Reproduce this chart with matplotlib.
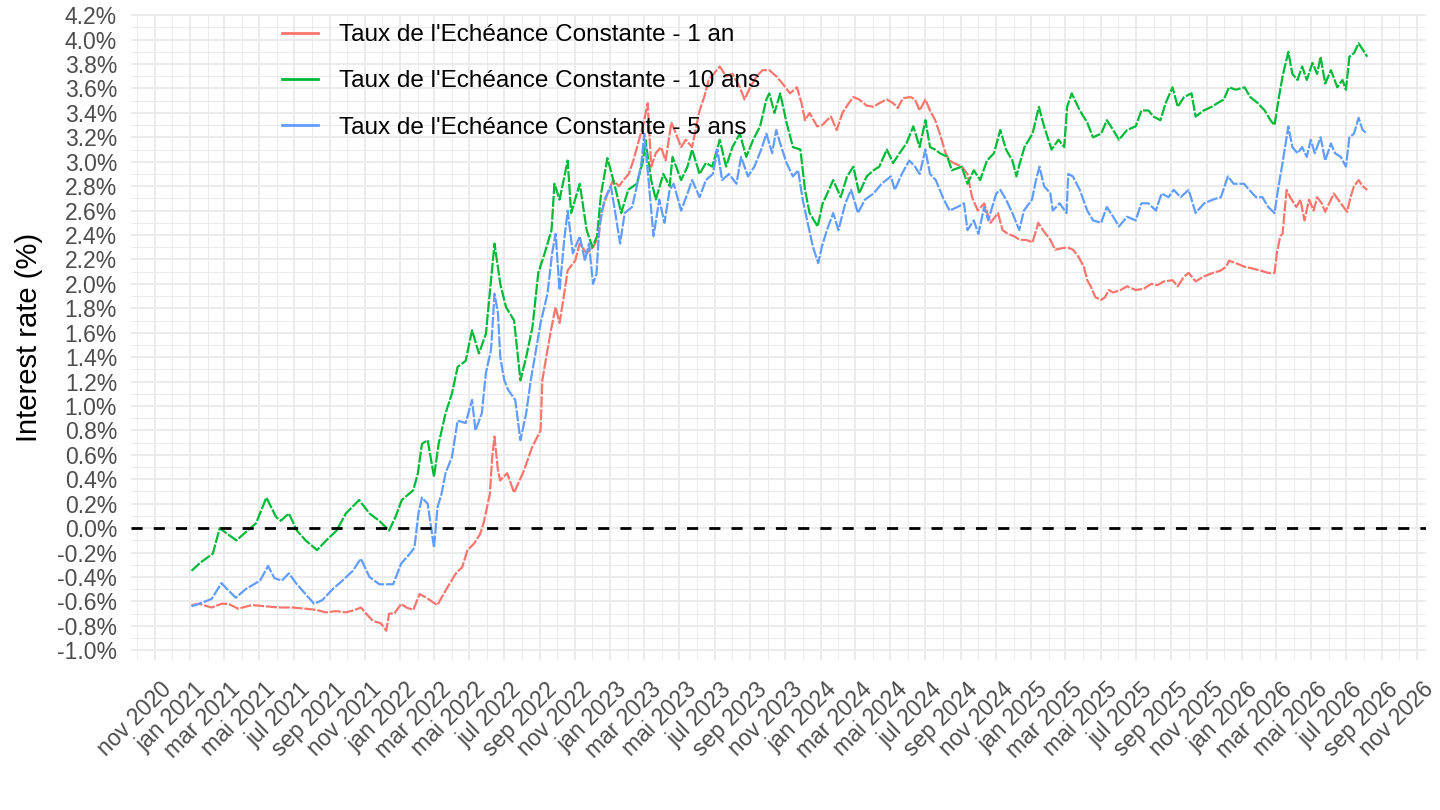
import numpy as np
import pandas as pd
import matplotlib
matplotlib.use("Agg")
import matplotlib.pyplot as plt
import matplotlib.dates as mdates
import matplotlib.transforms as mtransforms
from matplotlib.ticker import MultipleLocator, FuncFormatter

plt.rcParams['font.family'] = ['Liberation Sans', 'DejaVu Sans']

# ---- data ----
dates_1an = ["2021-01-04", "2021-01-17", "2021-02-08", "2021-02-25", "2021-03-09", "2021-03-26",
             "2021-04-19", "2021-05-12", "2021-06-04", "2021-06-28", "2021-07-21", "2021-08-09",
             "2021-08-25", "2021-09-12", "2021-09-29", "2021-10-15", "2021-10-25", "2021-11-03",
             "2021-11-15", "2021-11-29", "2021-12-08", "2021-12-13", "2021-12-22", "2022-01-03",
             "2022-01-12", "2022-01-24", "2022-02-04", "2022-02-16", "2022-02-28", "2022-03-07",
             "2022-03-14", "2022-03-25", "2022-04-08", "2022-04-19", "2022-04-28", "2022-05-09",
             "2022-05-20", "2022-05-26", "2022-06-06", "2022-06-10", "2022-06-14", "2022-06-20",
             "2022-06-24", "2022-07-06", "2022-07-18", "2022-08-04", "2022-08-18", "2022-09-02",
             "2022-09-05", "2022-09-14", "2022-09-20", "2022-09-28", "2022-10-05", "2022-10-13",
             "2022-10-19", "2022-11-01", "2022-11-09", "2022-11-21", "2022-12-02", "2022-12-12",
             "2022-12-16", "2022-12-27", "2023-01-06", "2023-01-16", "2023-01-24", "2023-02-02",
             "2023-02-10", "2023-02-20", "2023-02-28", "2023-03-07", "2023-03-13", "2023-03-21",
             "2023-03-30", "2023-04-07", "2023-04-17", "2023-04-25", "2023-05-04", "2023-05-12",
             "2023-05-23", "2023-06-05", "2023-06-13", "2023-06-21", "2023-07-10", "2023-07-21",
             "2023-08-01", "2023-08-14", "2023-08-22", "2023-09-01", "2023-09-12", "2023-09-22",
             "2023-10-04", "2023-10-16", "2023-10-27", "2023-11-09", "2023-11-21", "2023-11-29",
             "2023-12-05", "2023-12-13", "2023-12-26", "2024-01-04", "2024-01-12", "2024-01-19",
             "2024-01-29", "2024-02-08", "2024-02-19", "2024-02-27", "2024-03-08", "2024-03-21",
             "2024-04-02", "2024-04-12", "2024-04-25", "2024-05-06", "2024-05-14", "2024-05-23",
             "2024-06-05", "2024-06-13", "2024-06-21", "2024-07-01", "2024-07-09", "2024-07-18",
             "2024-07-26", "2024-08-05", "2024-08-12", "2024-08-19", "2024-09-02", "2024-09-12",
             "2024-09-20", "2024-09-30", "2024-10-11", "2024-10-22", "2024-11-04", "2024-11-12",
             "2024-11-21", "2024-12-02", "2024-12-12", "2024-12-23", "2025-01-03", "2025-01-13",
             "2025-01-21", "2025-02-03", "2025-02-11", "2025-02-21", "2025-03-04", "2025-03-14",
             "2025-03-24", "2025-04-02", "2025-04-08", "2025-04-14", "2025-04-22", "2025-05-02",
             "2025-05-09", "2025-05-15", "2025-05-23", "2025-06-05", "2025-06-16", "2025-07-01",
             "2025-07-15", "2025-07-28", "2025-08-08", "2025-08-19", "2025-09-03", "2025-09-12",
             "2025-09-23", "2025-10-01", "2025-10-13", "2025-10-27", "2025-11-12", "2025-11-26",
             "2025-12-05", "2025-12-10", "2025-12-22", "2026-01-06", "2026-01-16", "2026-02-02",
             "2026-02-16", "2026-02-27", "2026-03-03", "2026-03-09", "2026-03-13", "2026-03-20",
             "2026-03-26", "2026-04-06", "2026-04-13", "2026-04-20", "2026-04-28", "2026-05-06",
             "2026-05-12", "2026-05-20", "2026-05-26", "2026-06-05", "2026-06-10", "2026-06-22",
             "2026-07-03", "2026-07-09", "2026-07-15", "2026-07-23", "2026-07-30", "2026-08-07"]
taux_1an = [-0.63, -0.62, -0.65, -0.62, -0.62, -0.66,
            -0.63, -0.64, -0.65, -0.65, -0.66, -0.67,
            -0.69, -0.68, -0.69, -0.67, -0.65, -0.70,
            -0.76, -0.78, -0.84, -0.70, -0.70, -0.62,
            -0.65, -0.67, -0.54, -0.57, -0.61, -0.63,
            -0.57, -0.48, -0.37, -0.32, -0.18, -0.13,
            -0.05, 0.04, 0.28, 0.58, 0.75, 0.47,
            0.39, 0.45, 0.29, 0.47, 0.66, 0.80,
            1.21, 1.46, 1.62, 1.81, 1.68, 1.92,
            2.11, 2.19, 2.33, 2.25, 2.30, 2.39,
            2.58, 2.74, 2.85, 2.80, 2.85, 2.90,
            3.01, 3.18, 3.32, 3.48, 2.96, 3.07,
            3.12, 3.01, 3.32, 3.23, 3.12, 3.18,
            3.12, 3.42, 3.53, 3.67, 3.78, 3.70,
            3.72, 3.61, 3.51, 3.61, 3.70, 3.75,
            3.75, 3.70, 3.64, 3.56, 3.61, 3.48,
            3.34, 3.40, 3.29, 3.30, 3.34, 3.37,
            3.26, 3.40, 3.48, 3.53, 3.51, 3.46,
            3.45, 3.48, 3.51, 3.48, 3.44, 3.52,
            3.53, 3.51, 3.42, 3.51, 3.42, 3.34,
            3.23, 3.07, 3.01, 2.99, 2.96, 2.90,
            2.71, 2.60, 2.66, 2.50, 2.58, 2.44,
            2.41, 2.39, 2.36, 2.36, 2.34, 2.50,
            2.44, 2.36, 2.28, 2.29, 2.30, 2.28,
            2.22, 2.14, 2.03, 1.98, 1.89, 1.87,
            1.89, 1.95, 1.93, 1.95, 1.98, 1.95,
            1.96, 2.00, 1.99, 2.02, 2.03, 1.98,
            2.06, 2.09, 2.02, 2.06, 2.09, 2.11,
            2.14, 2.19, 2.17, 2.14, 2.13, 2.11,
            2.09, 2.09, 2.25, 2.39, 2.41, 2.77,
            2.71, 2.63, 2.69, 2.52, 2.69, 2.60,
            2.71, 2.66, 2.59, 2.69, 2.74, 2.66,
            2.59, 2.71, 2.80, 2.85, 2.80, 2.77]

dates_10ans = ["2021-01-04", "2021-01-20", "2021-02-10", "2021-02-22", "2021-03-08", "2021-03-23",
               "2021-04-09", "2021-04-26", "2021-05-14", "2021-05-31", "2021-06-08", "2021-06-22",
               "2021-07-06", "2021-07-21", "2021-08-10", "2021-08-26", "2021-09-13", "2021-09-29",
               "2021-10-22", "2021-11-09", "2021-11-26", "2021-12-13", "2021-12-24", "2022-01-04",
               "2022-01-24", "2022-02-01", "2022-02-08", "2022-02-18", "2022-03-01", "2022-03-09",
               "2022-03-21", "2022-04-01", "2022-04-11", "2022-04-25", "2022-05-06", "2022-05-18",
               "2022-05-30", "2022-06-14", "2022-06-24", "2022-07-04", "2022-07-18", "2022-07-29",
               "2022-08-08", "2022-08-19", "2022-08-29", "2022-09-09", "2022-09-21", "2022-09-26",
               "2022-10-05", "2022-10-19", "2022-10-25", "2022-11-09", "2022-11-21", "2022-12-01",
               "2022-12-09", "2022-12-16", "2022-12-27", "2023-01-09", "2023-01-20", "2023-02-01",
               "2023-02-16", "2023-02-27", "2023-03-03", "2023-03-13", "2023-03-21", "2023-04-03",
               "2023-04-14", "2023-04-19", "2023-05-04", "2023-05-15", "2023-05-23", "2023-06-05",
               "2023-06-16", "2023-06-27", "2023-07-10", "2023-07-21", "2023-08-01", "2023-08-14",
               "2023-08-25", "2023-09-06", "2023-09-18", "2023-09-29", "2023-10-04", "2023-10-13",
               "2023-10-23", "2023-11-03", "2023-11-14", "2023-11-27", "2023-12-05", "2023-12-13",
               "2023-12-27", "2024-01-04", "2024-01-23", "2024-02-05", "2024-02-16", "2024-02-27",
               "2024-03-08", "2024-03-21", "2024-04-02", "2024-04-12", "2024-04-25", "2024-05-06",
               "2024-05-17", "2024-05-29", "2024-06-10", "2024-06-21", "2024-07-01", "2024-07-09",
               "2024-07-18", "2024-07-26", "2024-08-08", "2024-08-16", "2024-09-02", "2024-09-12",
               "2024-09-23", "2024-10-04", "2024-10-16", "2024-10-28", "2024-11-08", "2024-11-18",
               "2024-11-29", "2024-12-06", "2024-12-12", "2024-12-20", "2025-01-03", "2025-01-14",
               "2025-01-23", "2025-02-05", "2025-02-17", "2025-02-27", "2025-03-04", "2025-03-12",
               "2025-03-26", "2025-04-08", "2025-04-18", "2025-05-02", "2025-05-12", "2025-05-23",
               "2025-06-02", "2025-06-16", "2025-07-01", "2025-07-11", "2025-07-23", "2025-08-01",
               "2025-08-13", "2025-08-22", "2025-09-03", "2025-09-12", "2025-09-23", "2025-10-06",
               "2025-10-13", "2025-10-27", "2025-11-10", "2025-11-20", "2025-12-01", "2025-12-10",
               "2025-12-22", "2026-01-06", "2026-01-16", "2026-01-29", "2026-02-10", "2026-02-20",
               "2026-02-27", "2026-03-06", "2026-03-13", "2026-03-23", "2026-03-30", "2026-04-08",
               "2026-04-16", "2026-04-24", "2026-05-04", "2026-05-12", "2026-05-18", "2026-05-26",
               "2026-06-05", "2026-06-16", "2026-06-25", "2026-07-01", "2026-07-07", "2026-07-15",
               "2026-07-23", "2026-07-30", "2026-08-07"]
taux_10ans = [-0.35, -0.28, -0.21, 0.00, -0.05, -0.10,
              -0.03, 0.04, 0.25, 0.09, 0.06, 0.12,
              -0.02, -0.10, -0.18, -0.10, -0.02, 0.12,
              0.23, 0.12, 0.06, -0.02, 0.09, 0.23,
              0.31, 0.45, 0.69, 0.72, 0.42, 0.69,
              0.94, 1.10, 1.32, 1.37, 1.62, 1.43,
              1.59, 2.33, 2.00, 1.81, 1.70, 1.21,
              1.40, 1.65, 2.09, 2.25, 2.44, 2.82,
              2.69, 3.01, 2.58, 2.82, 2.44, 2.30,
              2.39, 2.74, 3.03, 2.80, 2.58, 2.77,
              2.82, 3.01, 3.18, 2.85, 2.69, 2.90,
              2.80, 3.04, 2.85, 2.96, 3.10, 2.90,
              2.99, 2.96, 3.18, 2.96, 3.12, 3.23,
              3.04, 3.18, 3.29, 3.51, 3.56, 3.40,
              3.56, 3.32, 3.12, 3.10, 2.77, 2.58,
              2.47, 2.65, 2.85, 2.71, 2.88, 2.96,
              2.74, 2.88, 2.93, 2.96, 3.10, 2.99,
              3.07, 3.15, 3.29, 3.12, 3.34, 3.12,
              3.10, 3.07, 3.04, 2.93, 2.96, 2.82,
              2.93, 2.85, 3.01, 3.07, 3.26, 3.10,
              3.01, 2.88, 2.99, 3.12, 3.23, 3.45,
              3.29, 3.10, 3.18, 3.12, 3.45, 3.56,
              3.42, 3.32, 3.20, 3.23, 3.34, 3.26,
              3.18, 3.26, 3.29, 3.42, 3.42, 3.37,
              3.34, 3.48, 3.61, 3.45, 3.53, 3.56,
              3.37, 3.42, 3.45, 3.48, 3.51, 3.61,
              3.59, 3.61, 3.53, 3.48, 3.42, 3.34,
              3.30, 3.51, 3.70, 3.90, 3.72, 3.67,
              3.78, 3.67, 3.81, 3.72, 3.86, 3.64,
              3.75, 3.61, 3.67, 3.59, 3.86, 3.89,
              3.97, 3.92, 3.86]

dates_5ans = ["2021-01-04", "2021-01-17", "2021-02-08", "2021-02-25", "2021-03-09", "2021-03-22",
              "2021-04-08", "2021-05-03", "2021-05-17", "2021-05-28", "2021-06-10", "2021-06-22",
              "2021-07-06", "2021-07-21", "2021-08-05", "2021-08-19", "2021-09-06", "2021-09-23",
              "2021-10-11", "2021-10-25", "2021-11-09", "2021-11-26", "2021-12-20", "2022-01-03",
              "2022-01-18", "2022-01-26", "2022-02-02", "2022-02-08", "2022-02-18", "2022-03-01",
              "2022-03-07", "2022-03-14", "2022-03-21", "2022-04-01", "2022-04-11", "2022-04-25",
              "2022-05-06", "2022-05-12", "2022-05-23", "2022-05-30", "2022-06-08", "2022-06-14",
              "2022-06-20", "2022-06-24", "2022-07-01", "2022-07-08", "2022-07-20", "2022-07-29",
              "2022-08-08", "2022-08-16", "2022-08-24", "2022-09-02", "2022-09-14", "2022-09-22",
              "2022-09-28", "2022-10-05", "2022-10-13", "2022-10-19", "2022-10-28", "2022-11-09",
              "2022-11-18", "2022-11-25", "2022-12-02", "2022-12-08", "2022-12-13", "2022-12-22",
              "2023-01-02", "2023-01-09", "2023-01-18", "2023-01-26", "2023-02-08", "2023-02-16",
              "2023-02-24", "2023-03-01", "2023-03-09", "2023-03-17", "2023-03-27", "2023-04-05",
              "2023-04-14", "2023-04-21", "2023-05-04", "2023-05-15", "2023-05-23", "2023-06-05",
              "2023-06-16", "2023-06-28", "2023-07-06", "2023-07-14", "2023-07-26", "2023-08-08",
              "2023-08-16", "2023-08-28", "2023-09-08", "2023-09-20", "2023-09-29", "2023-10-09",
              "2023-10-16", "2023-10-25", "2023-11-03", "2023-11-14", "2023-11-23", "2023-12-01",
              "2023-12-11", "2023-12-19", "2023-12-28", "2024-01-03", "2024-01-12", "2024-01-23",
              "2024-02-01", "2024-02-13", "2024-02-23", "2024-03-06", "2024-03-18", "2024-04-02",
              "2024-04-16", "2024-05-02", "2024-05-09", "2024-05-21", "2024-06-03", "2024-06-13",
              "2024-06-21", "2024-07-01", "2024-07-09", "2024-07-19", "2024-08-02", "2024-08-12",
              "2024-08-26", "2024-09-06", "2024-09-12", "2024-09-23", "2024-10-01", "2024-10-11",
              "2024-10-18", "2024-11-01", "2024-11-08", "2024-11-18", "2024-11-29", "2024-12-11",
              "2024-12-19", "2025-01-02", "2025-01-09", "2025-01-15", "2025-01-23", "2025-02-03",
              "2025-02-07", "2025-02-19", "2025-03-03", "2025-03-06", "2025-03-14", "2025-03-26",
              "2025-04-08", "2025-04-18", "2025-05-02", "2025-05-12", "2025-05-23", "2025-06-02",
              "2025-06-16", "2025-07-01", "2025-07-11", "2025-07-23", "2025-08-05", "2025-08-15",
              "2025-08-27", "2025-09-05", "2025-09-17", "2025-10-01", "2025-10-13", "2025-10-28",
              "2025-11-12", "2025-11-26", "2025-12-08", "2025-12-18", "2026-01-05", "2026-01-14",
              "2026-01-26", "2026-02-06", "2026-02-16", "2026-02-27", "2026-03-06", "2026-03-13",
              "2026-03-23", "2026-03-30", "2026-04-08", "2026-04-16", "2026-04-24", "2026-05-01",
              "2026-05-08", "2026-05-18", "2026-05-26", "2026-06-05", "2026-06-12", "2026-06-22",
              "2026-07-01", "2026-07-07", "2026-07-15", "2026-07-23", "2026-07-30", "2026-08-07"]
taux_5ans = [-0.64, -0.62, -0.58, -0.45, -0.51, -0.57,
             -0.50, -0.43, -0.31, -0.41, -0.43, -0.37,
             -0.46, -0.54, -0.62, -0.59, -0.50, -0.43,
             -0.35, -0.25, -0.40, -0.46, -0.46, -0.29,
             -0.21, -0.16, 0.12, 0.25, 0.20, -0.16,
             0.17, 0.28, 0.45, 0.58, 0.88, 0.86,
             1.05, 0.80, 0.94, 1.27, 1.46, 1.92,
             1.76, 1.40, 1.21, 1.13, 1.05, 0.72,
             0.94, 1.21, 1.43, 1.68, 1.92, 2.25,
             2.41, 1.95, 2.36, 2.60, 2.25, 2.39,
             2.19, 2.33, 2.00, 2.08, 2.47, 2.69,
             2.80, 2.60, 2.33, 2.58, 2.63, 2.80,
             2.99, 3.23, 2.82, 2.39, 2.69, 2.50,
             2.77, 2.82, 2.60, 2.74, 2.85, 2.71,
             2.85, 2.90, 3.10, 2.85, 2.90, 2.82,
             3.04, 2.88, 2.96, 3.10, 3.23, 3.07,
             3.26, 3.12, 2.99, 2.88, 2.93, 2.69,
             2.47, 2.30, 2.17, 2.30, 2.44, 2.58,
             2.44, 2.66, 2.77, 2.58, 2.69, 2.74,
             2.82, 2.88, 2.77, 2.90, 3.01, 2.96,
             2.90, 3.10, 2.90, 2.85, 2.69, 2.60,
             2.63, 2.66, 2.44, 2.52, 2.41, 2.63,
             2.52, 2.74, 2.77, 2.69, 2.58, 2.44,
             2.60, 2.69, 2.85, 2.96, 2.80, 2.74,
             2.60, 2.66, 2.58, 2.90, 2.88, 2.77,
             2.60, 2.52, 2.50, 2.63, 2.55, 2.47,
             2.55, 2.52, 2.66, 2.66, 2.60, 2.74,
             2.71, 2.77, 2.71, 2.77, 2.58, 2.66,
             2.69, 2.71, 2.88, 2.82, 2.82, 2.77,
             2.71, 2.71, 2.63, 2.58, 2.80, 2.99,
             3.29, 3.12, 3.07, 3.12, 3.04, 3.18,
             3.07, 3.20, 3.01, 3.15, 3.07, 3.04,
             2.96, 3.20, 3.23, 3.36, 3.26, 3.23]

series = [
    ("Taux de l'Echéance Constante - 1 an", dates_1an, taux_1an, "#F8766D"),
    ("Taux de l'Echéance Constante - 10 ans", dates_10ans, taux_10ans, "#00BA38"),
    ("Taux de l'Echéance Constante - 5 ans", dates_5ans, taux_5ans, "#619CFF"),
]

mois = {1: "jan", 3: "mar", 5: "mai", 7: "jul", 9: "sep", 11: "nov"}

# ---- figure ----
fig = plt.figure(figsize=(14.4, 8.1), dpi=100)
ax = fig.add_axes([131 / 1440, 1 - 660 / 810, (1426 - 131) / 1440, (660 - 14) / 810])

for lab, d, v, col in series:
    ax.plot(pd.to_datetime(d), v, color=col, lw=1.6, label=lab,
            linestyle=(0, (5, 0.8)))

ax.axhline(0, color="black", lw=2.0, linestyle=(0, (4, 4)))

ax.set_xlim(pd.Timestamp("2020-09-21"), pd.Timestamp("2026-11-17"))
ax.set_ylim(-1.08, 4.21)

ax.yaxis.set_major_locator(MultipleLocator(0.2))
ax.yaxis.set_minor_locator(MultipleLocator(0.1))
ax.yaxis.set_major_formatter(FuncFormatter(lambda y, p: f"{y:.1f}%".replace("-0.0", "0.0")))

ax.xaxis.set_major_locator(mdates.MonthLocator(bymonth=[1, 3, 5, 7, 9, 11]))
ax.xaxis.set_minor_locator(mdates.MonthLocator())
ax.xaxis.set_major_formatter(FuncFormatter(
    lambda x, p: f"{mois[mdates.num2date(x).month]} {mdates.num2date(x).year}"))

ax.grid(which="major", color="#EBEBEB", lw=1.4)
ax.grid(which="minor", color="#EBEBEB", lw=0.7)
ax.set_axisbelow(True)
for s in ax.spines.values():
    s.set_visible(False)
ax.tick_params(which="both", length=0)
ax.tick_params(axis="y", labelsize=16.5, labelcolor="#4D4D4D", pad=10)
ax.tick_params(axis="x", labelsize=16.5, labelcolor="#4D4D4D", pad=13)

offset = mtransforms.ScaledTranslation(5 / 100, 0, fig.dpi_scale_trans)
for t in ax.get_xticklabels():
    t.set_rotation(45)
    t.set_ha("right")
    t.set_va("top")
    t.set_rotation_mode("anchor")
    t.set_transform(t.get_transform() + offset)

ax.set_ylabel("Interest rate (%)", fontsize=21, color="black", labelpad=10)
ax.set_xlabel("")

leg = ax.legend(loc="upper left", bbox_to_anchor=(282 / 1440, 1 - 24 / 810),
                bbox_transform=fig.transFigure, frameon=False, fontsize=17.5,
                handlelength=1.5, handletextpad=0.85, labelspacing=1.0,
                borderpad=0, borderaxespad=0)
for line in leg.get_lines():
    line.set_linewidth(2.0)
    line.set_linestyle("-")

fig.savefig("out.png", dpi=100)
